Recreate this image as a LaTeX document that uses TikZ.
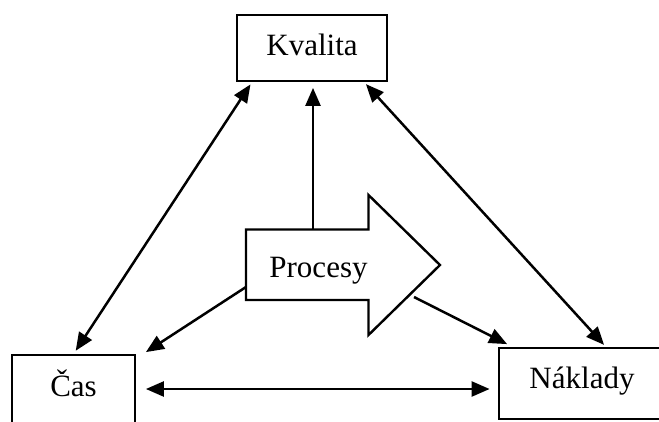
\documentclass[tikz,border=0pt]{standalone}
\usepackage{fontspec}
\setmainfont{Liberation Serif}
\usetikzlibrary{arrows.meta,calc}
\begin{document}
\begin{tikzpicture}[x=1pt,y=-1pt,
  box/.style={draw, line width=1.8pt, inner sep=0pt, text height=21pt, text depth=7pt,
              font=\fontsize{31}{37}\selectfont},
  label/.style={inner sep=0pt, font=\fontsize{31}{37}\selectfont},
  link/.style={line width=2.5pt, -{Triangle[length=18pt,width=15pt]}},
  twoway/.style={line width=2.5pt, {Triangle[length=18pt,width=15pt]}-{Triangle[length=18pt,width=15pt]}},
  bigarrow/.style={draw, line width=2.4pt, line join=miter, fill=white},
]
\useasboundingbox (0,0) rectangle (659,421);
\clip (0,0) rectangle (659,421);

% the three boxes
\node[box, minimum width=150pt, minimum height=66pt] (kval) at (312,48) {Kvalita};
\node[box, minimum width=123pt, minimum height=68pt] (cas) at (73.5,389) {Čas};
\node[box, minimum width=166pt, minimum height=71pt, text depth=12pt] (nak) at (582,383.5) {Náklady};

% the central block arrow
\coordinate (pa) at (246,229.5);
\coordinate (pb) at (368.5,229.5);
\coordinate (pc) at (368.5,195);
\coordinate (pd) at (440,265);
\coordinate (pe) at (368.5,335);
\coordinate (pf) at (368.5,300);
\coordinate (pg) at (246,300);
\draw[bigarrow] (pa) -- (pb) -- (pc) -- (pd) -- (pe) -- (pf) -- (pg) -- cycle;
\node[label, anchor=base] (proc) at (318.5,277) {Procesy};

% where the connectors leave the block arrow
\coordinate (ptop) at (313,229.5);
\coordinate (pleft) at (246,287);
\coordinate (plow) at (414,297);

% connectors
\draw[twoway, shorten <=3pt, shorten >=4pt]
  ($(kval.south west)+(16,0)$) -- (cas.north);
\draw[twoway, shorten <=3pt, shorten >=3pt]
  ($(kval.south east)+(-24,0)$) -- ($(nak.north west)+(108,0)$);
\draw[twoway]
  ($(cas.east)+(10,0)$) -- ($(cas.east -| nak.west)+(-8.5,0)$);
\draw[link, shorten >=6pt] (ptop) -- (ptop |- kval.south);
\draw[link] (pleft) -- ($(cas.north east)+(10,-2)$);
\draw[link] (plow) -- ($(nak.north west)+(9,-3)$);
\end{tikzpicture}
\end{document}
